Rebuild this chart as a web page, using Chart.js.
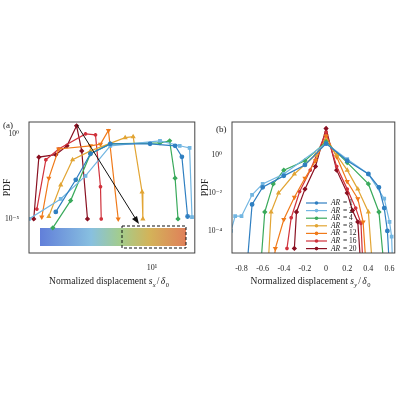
<!DOCTYPE html>
<html>
<head>
<meta charset="UTF-8">
<script src="https://cdn.jsdelivr.net/npm/chart.js"></script>
<style>
  body { margin: 0; background: #fff; width: 400px; height: 400px; position: relative; overflow: hidden; }
  .panel { position: absolute; top: 110px; width: 200px; height: 180px; }
</style>
</head>
<body>
<div class="panel" style="left:0"><canvas id="chartA"></canvas></div>
<div class="panel" style="left:200px"><canvas id="chartB"></canvas></div>
<script>
// series labels, colours and markers
const arLabels = ['1', '2', '4', '8', '12', '16', '20'];
const colors = ['#2f7fc1', '#72b6e2', '#3aaa5c', '#e2a534', '#f07a1a', '#d0323c', '#8a1122'];
const markers = ['circle', 'rect', 'rectRot', 'triangle', 'triangle', 'star', 'rectRot'];
const rotations = [0, 0, 0, 0, 180, 0, 0];

// panel (a): streamwise displacement, [s_x/δ0, PDF]
const aAR1 = [[2.95,2.6e-5],[3.8,2.0e-3],[4.58,0.068],[5.89,0.26],[9.75,0.26],[13.4,0.2],[14.6,0.045],[15.7,1.4e-5]];
const aAR2 = [[2.1,1e-5],[3.14,1.5e-4],[4.3,3.4e-3],[5.89,0.2],[11.06,0.39],[14.2,0.2],[16.1,0.15],[16.6,1.3e-5]];
const aAR4 = [[2.84,3e-6],[3.56,1.2e-4],[4.58,0.068],[5.89,0.26],[11.06,0.3],[12.5,0.39],[13.4,2.5e-3],[13.9,1.0e-5]];
const aAR8 = [[2.7,1.4e-5],[3.14,1.0e-3],[3.65,0.03],[4.58,0.1],[7.11,0.6],[7.87,0.68],[8.81,3.9e-4],[8.9,1e-5]];
const aAR12 = [[2.47,1.3e-5],[2.7,2.5e-3],[3.06,0.13],[4.58,0.2],[5.2,0.25],[5.75,1.6],[6.51,1e-5]];
const aAR16 = [[2.32,3.8e-5],[2.6,0.03],[3.06,0.13],[4.3,1.0],[4.88,0.88],[5.2,7.9e-4],[5.25,1e-5]];
const aAR20 = [[2.23,1e-5],[2.38,0.043],[2.95,0.06],[3.4,0.2],[3.84,3.0],[4.1,0.1],[4.41,1e-5]];

// panel (b): spanwise displacement, [s_y/δ0, PDF]
const bAR1 = [[-0.75,1e-6],[-0.7,2.5e-3],[-0.6,0.02],[-0.4,0.08],[-0.2,0.3],[0,4],[0.2,0.5],[0.4,0.1],[0.5,0.02],[0.55,1.6e-3],[0.58,1e-4],[0.6,1e-6]];
const bAR2 = [[-0.9,1e-4],[-0.86,6e-4],[-0.8,6e-4],[-0.7,8e-3],[-0.6,0.03],[-0.4,0.1],[0,4],[0.2,0.6],[0.4,0.1],[0.55,5e-3],[0.6,3e-4],[0.62,5e-5],[0.63,1e-6]];
const bAR4 = [[-0.62,1e-6],[-0.58,1e-3],[-0.5,0.03],[-0.4,0.16],[-0.2,0.5],[0,5],[0.2,0.4],[0.4,0.03],[0.5,1e-3],[0.55,1e-6]];
const bAR8 = [[-0.55,1e-6],[-0.52,1e-3],[-0.45,0.01],[-0.3,0.1],[-0.1,1],[0,6],[0.1,1],[0.2,0.16],[0.3,0.016],[0.4,1e-3],[0.44,1e-6]];
const bAR12 = [[-0.5,1e-6],[-0.48,1.2e-5],[-0.4,4e-4],[-0.3,6e-3],[-0.2,0.06],[-0.1,0.5],[0,10],[0.1,0.8],[0.2,0.04],[0.3,5e-3],[0.35,3e-4],[0.38,1e-6]];
const bAR16 = [[-0.37,1.2e-5],[-0.33,5e-4],[-0.25,0.012],[-0.15,0.16],[0,16],[0.1,0.25],[0.2,0.016],[0.28,1.6e-3],[0.33,2.5e-4],[0.35,1e-6]];
const bAR20 = [[-0.3,1.2e-5],[-0.28,1e-3],[-0.2,0.016],[-0.1,0.25],[0,25],[0.1,0.16],[0.2,0.01],[0.25,1.2e-3],[0.3,3e-4],[0.33,1e-6]];

const serif = '"Liberation Serif", "DejaVu Serif", serif';
const supers = { '-': '⁻', '0': '⁰', '1': '¹', '2': '²', '3': '³', '4': '⁴', '5': '⁵' };
const powLabel = v => '10' + String(Math.round(Math.log10(v))).split('').map(c => supers[c]).join('');

function makeSets(series) {
  return series.map((s, i) => ({
    label: 'AR = ' + arLabels[i],
    data: s.map(p => ({ x: p[0], y: p[1] })),
    borderColor: colors[i], backgroundColor: colors[i],
    borderWidth: 1.2, pointStyle: markers[i], rotation: rotations[i],
    pointRadius: 1.8, tension: 0
  }));
}

function fixTicks(values) {
  return axis => { axis.ticks = values.map(v => ({ value: v })); };
}

function frameText(label, sub, labelX, labelY, titleX) {
  return {
    id: 'frame',
    afterDraw(chart) {
      const c = chart.ctx, a = chart.chartArea;
      c.save();
      c.strokeStyle = '#444'; c.lineWidth = 1;
      c.strokeRect(a.left, a.top, a.right - a.left, a.bottom - a.top);
      c.fillStyle = '#222';
      c.font = '9px ' + serif;
      c.textBaseline = 'top';
      c.fillText(label, labelX, labelY);
      // x title
      c.font = '9.5px ' + serif;
      const mid = (a.left + a.right) / 2;
      const t1 = 'Normalized displacement ';
      const w1 = c.measureText(t1).width;
      const x0 = mid - (w1 + 26) / 2;
      const yT = a.bottom + 24;
      c.fillText(t1, x0, yT);
      c.font = 'italic 9.5px ' + serif;
      c.fillText('s', x0 + w1, yT);
      c.font = 'italic 6.5px ' + serif;
      c.fillText(sub, x0 + w1 + 4, yT + 5);
      c.font = '9.5px ' + serif;
      c.fillText('/', x0 + w1 + 8, yT);
      c.font = 'italic 9.5px ' + serif;
      c.fillText('δ', x0 + w1 + 12, yT);
      c.font = '6.5px ' + serif;
      c.fillText('0', x0 + w1 + 17, yT + 5);
      // y title
      c.font = '9.5px ' + serif;
      c.translate(titleX, (a.top + a.bottom) / 2);
      c.rotate(-Math.PI / 2);
      c.textAlign = 'center';
      c.textBaseline = 'middle';
      c.fillText('PDF', 0, 0);
      c.restore();
    }
  };
}

const insetPlugin = {
  id: 'inset',
  beforeDatasetsDraw(chart) {
    const c = chart.ctx;
    c.save();
    // trajectory inset
    const g = c.createLinearGradient(40, 0, 186, 0);
    g.addColorStop(0, '#3a5fd0'); g.addColorStop(0.35, '#6ab0d8');
    g.addColorStop(0.55, '#8cc070'); g.addColorStop(0.75, '#c8a030'); g.addColorStop(1, '#d86030');
    c.fillStyle = g;
    c.globalAlpha = 0.8;
    c.fillRect(40, 118, 146, 18);
    c.restore();
  },
  afterDraw(chart) {
    const c = chart.ctx;
    c.save();
    c.setLineDash([3, 2]);
    c.strokeStyle = '#111'; c.lineWidth = 1;
    c.strokeRect(122, 116, 64, 22);
    c.setLineDash([]);
    // arrow
    c.beginPath(); c.moveTo(77, 15); c.lineTo(137, 111); c.stroke();
    c.beginPath(); c.moveTo(139, 114); c.lineTo(132, 109); c.lineTo(137, 106); c.closePath();
    c.fillStyle = '#111'; c.fill();
    c.restore();
  }
};

const legendPlugin = {
  id: 'legendBox',
  afterDraw(chart) {
    const c = chart.ctx;
    c.save();
    chart.data.datasets.forEach((d, i) => {
      const y = 93 + i * 7.6;
      c.strokeStyle = d.borderColor; c.lineWidth = 1.2;
      c.beginPath(); c.moveTo(106, y); c.lineTo(127, y); c.stroke();
      c.fillStyle = d.borderColor;
      c.beginPath(); c.arc(116.5, y, 1.8, 0, Math.PI * 2); c.fill();
      c.fillStyle = '#222';
      c.font = 'italic 7.5px ' + serif; c.textBaseline = 'middle';
      c.fillText('AR', 131, y);
      c.font = '7.5px ' + serif;
      c.fillText('= ' + arLabels[i], 143, y);
    });
    c.restore();
  }
};

const commonOpts = (xScale, yScale) => ({
  responsive: true, maintainAspectRatio: false, animation: false,
  plugins: { legend: { display: false }, tooltip: { enabled: false } },
  layout: { padding: { top: 12, right: 3, left: 0, bottom: 0 } },
  scales: { x: xScale, y: yScale }
});

new Chart(document.getElementById('chartA'), {
  type: 'line',
  data: { datasets: makeSets([aAR1, aAR2, aAR4, aAR8, aAR12, aAR16, aAR20]) },
  options: commonOpts(
    { type: 'logarithmic', min: 2.1, max: 17.2, grid: { display: false }, border: { display: false },
      afterBuildTicks: fixTicks([10]), afterFit: s => { s.height = 37; },
      ticks: { callback: powLabel, font: { family: serif, size: 8 }, color: '#222', maxRotation: 0, padding: 2 } },
    { type: 'logarithmic', min: 1e-7, max: 5, grid: { display: false }, border: { display: false },
      afterBuildTicks: fixTicks([1e-5, 1]), afterFit: s => { s.width = 29; },
      ticks: { callback: powLabel, font: { family: serif, size: 7.5 }, color: '#222', padding: 2 } }
  ),
  plugins: [frameText('(a)', 'x', 3, 11, 7), insetPlugin]
});

new Chart(document.getElementById('chartB'), {
  type: 'line',
  data: { datasets: makeSets([bAR1, bAR2, bAR4, bAR8, bAR12, bAR16, bAR20]) },
  options: commonOpts(
    { type: 'linear', min: -0.89, max: 0.65, grid: { display: false }, border: { display: false },
      afterBuildTicks: fixTicks([-0.8, -0.6, -0.4, -0.2, 0, 0.2, 0.4, 0.6]), afterFit: s => { s.height = 37; },
      ticks: { callback: v => (Math.round(v * 10) / 10).toString(), font: { family: serif, size: 8 }, color: '#222', maxRotation: 0, padding: 3 } },
    { type: 'logarithmic', min: 6.9e-6, max: 55, grid: { display: false }, border: { display: false },
      afterBuildTicks: fixTicks([1e-4, 1e-2, 1]), afterFit: s => { s.width = 32; },
      ticks: { callback: powLabel, font: { family: serif, size: 7.5 }, color: '#222', padding: 2 } }
  ),
  plugins: [frameText('(b)', 'y', 16, 15, 5), legendPlugin]
});
</script>
</body>
</html>
